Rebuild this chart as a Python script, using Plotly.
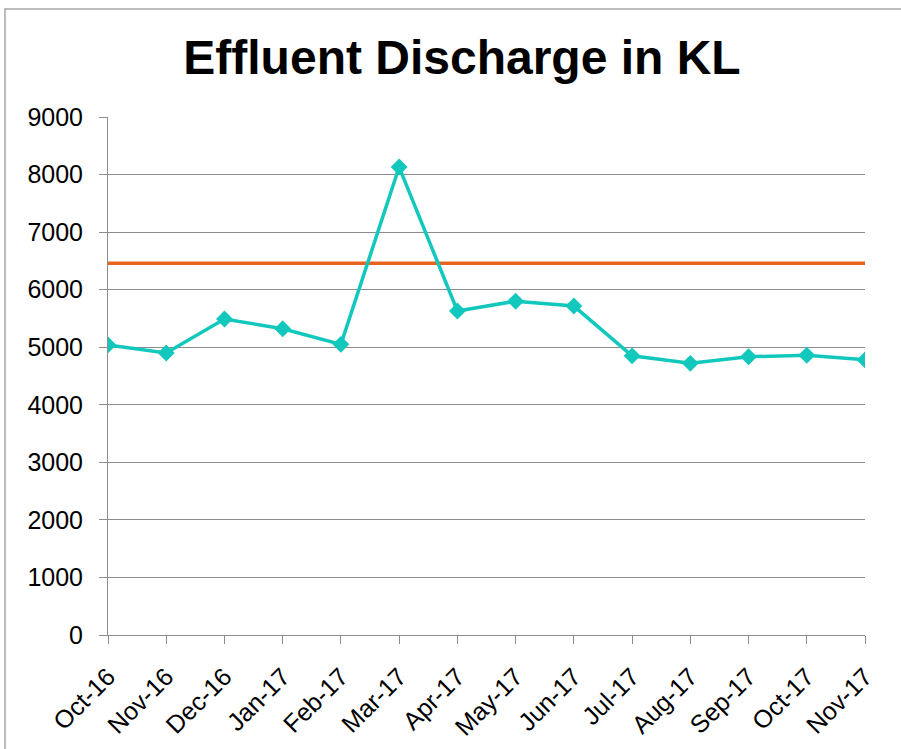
import plotly.graph_objects as go

months = ["Oct-16", "Nov-16", "Dec-16", "Jan-17", "Feb-17", "Mar-17", "Apr-17",
          "May-17", "Jun-17", "Jul-17", "Aug-17", "Sep-17", "Oct-17", "Nov-17"]
discharge = [5040, 4900, 5490, 5320, 5050, 8130, 5630, 5800, 5715, 4850, 4720, 4835, 4860, 4780]
limit = [6460] * len(months)

fig = go.Figure()
fig.add_trace(go.Scatter(x=months, y=limit, mode="lines",
                         line=dict(color="#E8641E", width=3.5), showlegend=False))
fig.add_trace(go.Scatter(x=months, y=discharge, mode="lines+markers",
                         line=dict(color="#12C8BC", width=3.5),
                         marker=dict(symbol="diamond", size=13, color="#12C8BC"),
                         showlegend=False))

L, R, T, B = 108, 36, 117, 114
W, H = 901, 749
pw, ph = W - L - R, H - T - B

fig.update_layout(
    width=W, height=H,
    margin=dict(l=L, r=R, t=T, b=B, pad=0, autoexpand=False),
    paper_bgcolor="white", plot_bgcolor="white",
    font=dict(family="Liberation Sans, Arial, sans-serif", color="black"),
    title=dict(text="<b>Effluent Discharge in KL</b>", x=462 / W, xanchor="center",
               y=1 - 57 / H, yanchor="middle", yref="container",
               font=dict(size=48, color="black")),
    xaxis=dict(type="category", range=[0, len(months) - 1], tickangle=-45,
               showline=True, linecolor="#8C8C8C", linewidth=1,
               ticks="outside", ticklen=8, tickcolor="#8C8C8C", automargin=False,
               showgrid=False, tickfont=dict(size=25), ticklabelstandoff=8),
    yaxis=dict(range=[0, 9000], dtick=1000, showline=True, linecolor="#8C8C8C",
               linewidth=1, ticks="outside", ticklen=8, tickcolor="#8C8C8C",
               showgrid=True, gridcolor="#8C8C8C", gridwidth=1, automargin=False,
               zeroline=False, tickfont=dict(size=25), ticklabelstandoff=11),
    shapes=[dict(type="rect", xref="paper", yref="paper",
                 x0=(5 - L) / pw, x1=2, y0=-2, y1=(H - B - 9) / ph,
                 line=dict(color="#A6A6A6", width=1.5), layer="below")],
)

fig.write_html("out.html", config={"displayModeBar": False},
               post_script="document.body.style.margin='0';document.body.style.overflow='hidden';")
